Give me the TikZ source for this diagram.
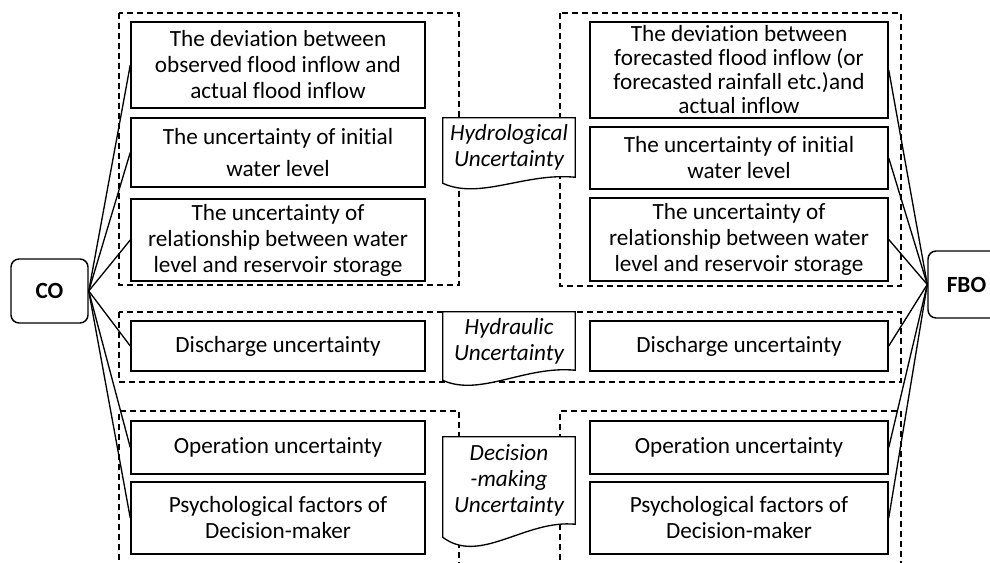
\documentclass[tikz,border=0pt]{standalone}
\usepackage{fontspec}
\setmainfont{Carlito}[Ligatures=NoCommon]
\usetikzlibrary{backgrounds,calc}

\newcommand\basefont{\fontsize{17.4}{19.5}\selectfont}
\tikzset{
  cause/.style={draw, line width=1.1pt, align=center, inner sep=2pt},
  utag/.style={align=center, font=\basefont\itshape, minimum width=132*0.75pt, inner sep=0pt},
  optbox/.style={draw, line width=1.1pt, rounded corners=6pt, font=\basefont\bfseries,
    minimum width=77*0.75pt},
  frame/.style={line width=1pt, dash pattern=on 4.5pt off 3pt},
  link/.style={line width=1pt},
}
% outline of a tag: flat top, wavy bottom (node, drop of left corner, depth of wave)
\newcommand\docframe[3]{%
  \draw[line width=1pt, fill=white] (#1.north west) -- (#1.north east) -- (#1.south east)
    .. controls +(-50,-5) and +(37,#3) .. ($(#1.south west)+(0,#2)$) -- cycle;}

\begin{document}
\begin{tikzpicture}[x=0.75pt, y=-0.75pt, font=\basefont]
  \useasboundingbox (0,0) rectangle (990,563);

  \node[optbox, minimum height=64*0.75pt] (CO) at (49.5,291) {CO};
  \node[optbox, minimum height=67*0.75pt] (FBO) at (966.5,284.5) {FBO};

  % conventional operation side
  \foreach[count=\j] \yj/\hj/\tj in {
      65/86/{The deviation between\\observed flood inflow and\\actual flood inflow},
      152.5/69/{The uncertainty of initial\\[4.5pt]water level},
      240/82/{The uncertainty of\\relationship between water\\level and reservoir storage},
      346/50/{Discharge uncertainty},
      447.5/53/{Operation uncertainty},
      518/72/{Psychological factors of\\Decision-maker}} {
    \node[cause, minimum width=294*0.75pt, minimum height=\hj*0.75pt] (l-\j) at (278,\yj) {\tj};
  }
  % forecast based operation side
  \foreach[count=\j] \yj/\hj/\tj in {
      70/96/{The deviation between\\[-1.5pt]forecasted flood inflow (or\\[-1.5pt]forecasted rainfall etc.)and\\[-1.5pt]actual inflow},
      158/62/{The uncertainty of initial\\water level},
      239.5/83/{The uncertainty of\\relationship between water\\level and reservoir storage},
      346/50/{Discharge uncertainty},
      447.5/53/{Operation uncertainty},
      518/72/{Psychological factors of\\Decision-maker}} {
    \node[cause, minimum width=298*0.75pt, minimum height=\hj*0.75pt] (r-\j) at (739,\yj) {\tj};
  }

  \node[utag, minimum height=59*0.75pt] (hydro) at (509,147.5) {Hydrological\\Uncertainty};
  \node[utag, minimum height=58*0.75pt] (hydra) at (509,341) {Hydraulic\\Uncertainty};
  \node[utag, minimum height=87*0.75pt] (decis) at (509,480.5) {Decision\\-making\\Uncertainty};

  \foreach \j in {1,...,6} {
    \draw[link] (CO.east) -- (l-\j.west);
    \draw[link] (FBO.west) -- (r-\j.east);
  }

  \begin{scope}[on background layer]
    \draw[frame] (119,13) rectangle (459,285);
    \draw[frame] (560,13) rectangle (901,286);
    \draw[frame] (119,312) rectangle (901,382);
    \draw[frame] (119,580) -- (119,411) -- (459,411) -- (459,580);
    \draw[frame] (560,580) -- (560,411) -- (901,411) -- (901,580);
    \docframe{hydro}{6}{17}
    \docframe{hydra}{10}{17}
    \docframe{decis}{13}{28}
  \end{scope}
\end{tikzpicture}
\end{document}
